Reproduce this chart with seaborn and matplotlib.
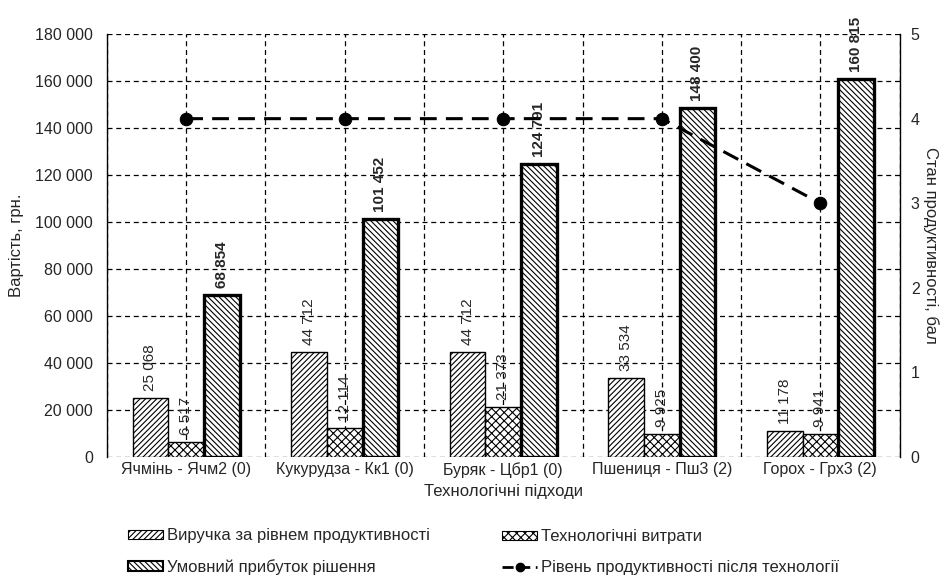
import numpy as np
import pandas as pd
import matplotlib
matplotlib.use("Agg")
import matplotlib.pyplot as plt
from matplotlib.patches import Patch
from matplotlib.lines import Line2D
from matplotlib.ticker import FuncFormatter, MultipleLocator
import seaborn as sns

# ---- data ----
approaches = ["Ячмінь - Ячм2 (0)", "Кукурудза - Кк1 (0)", "Буряк - Цбр1 (0)",
              "Пшениця - Пш3 (2)", "Горох - Грх3 (2)"]
revenue = [25068, 44712, 44712, 33534, 11178]
costs = [6517, 12114, 21373, 9925, 9941]
profit = [68854, 101452, 124791, 148400, 160815]
level_after = [4, 4, 4, 4, 3]

series_names = ["Виручка за рівнем продуктивності", "Технологічні витрати",
                "Умовний прибуток рішення"]
line_name = "Рівень продуктивності після технології"

sns.set_style("white")
plt.rcParams["font.family"] = ["Liberation Sans", "DejaVu Sans"]
plt.rcParams["hatch.linewidth"] = 0.8

df = pd.DataFrame({
    "approach": approaches * 3,
    "series": np.repeat(series_names, len(approaches)),
    "value": revenue + costs + profit,
})

fig = plt.figure(figsize=(9.46, 5.88), dpi=100)
ax = fig.add_axes([0.113, 0.223, 0.838, 0.719])

sns.barplot(data=df, x="approach", y="value", hue="series", order=approaches,
            hue_order=series_names, palette=["white"] * 3, width=0.675,
            edgecolor="black", linewidth=1, legend=False, ax=ax, zorder=3)

hatches = ["//////", "xxxx", "\\\\\\\\\\\\"]
edge_w = [1.0, 1.0, 2.4]
for cont, h, lw, in zip(ax.containers, hatches, edge_w):
    for bar in cont:
        bar.set_hatch(h)
        bar.set_linewidth(lw)
        bar.set_edgecolor("black")

fmt = lambda v: f"{v:,.0f}".replace(",", " ")
for i, cont in enumerate(ax.containers):
    ax.bar_label(cont, labels=[fmt(b.get_height()) for b in cont], rotation=90,
                 padding=5, fontsize=11,
                 fontweight="bold" if i == 2 else "normal", zorder=5)

ax.set_ylim(0, 180000)
ax.set_xlim(-0.5, len(approaches) - 0.5)
ax.yaxis.set_major_locator(MultipleLocator(20000))
ax.yaxis.set_major_formatter(FuncFormatter(lambda v, p: fmt(v)))
ax.set_ylabel("Вартість, грн.", fontsize=12, labelpad=8)
ax.set_xlabel("Технологічні підходи", fontsize=12, labelpad=4)
ax.tick_params(axis="y", labelsize=11.5, length=0, pad=10)
ax.tick_params(axis="x", labelsize=11.5, length=0, pad=4)

# dashed grid at category centres and boundaries
ax.xaxis.set_minor_locator(MultipleLocator(1, offset=0.5))
ax.grid(axis="y", which="major", linestyle=(0, (4, 3)), color="black", linewidth=0.9, zorder=0)
ax.grid(axis="x", which="both", linestyle=(0, (4, 3)), color="black", linewidth=0.9, zorder=0)
ax.set_axisbelow(True)
for s in ax.spines.values():
    s.set_visible(False)
ax.spines["left"].set_visible(True)
ax.spines["left"].set_color("black")
ax.spines["left"].set_linewidth(1)

# secondary axis: productivity level
ax2 = ax.twinx()
line_df = pd.DataFrame({"pos": np.arange(len(approaches)), "level": level_after})
sns.lineplot(data=line_df, x="pos", y="level", ax=ax2, color="black", linewidth=2.2,
             marker="o", markersize=9, markeredgecolor="black", zorder=6)
ax2.lines[0].set_dashes([5.5, 3])
ax2.set_ylim(0, 5)
ax2.set_xlim(-0.5, len(approaches) - 0.5)
ax2.yaxis.set_major_locator(MultipleLocator(1))
ax2.set_ylabel("Стан продуктивності, бал", fontsize=12, rotation=270, labelpad=14)
ax2.set_xlabel("")
ax2.tick_params(axis="y", labelsize=11.5, length=0, pad=8)
for s in ax2.spines.values():
    s.set_visible(False)
ax2.spines["right"].set_visible(True)
ax2.spines["right"].set_color("black")
ax2.spines["right"].set_linewidth(1)

bar_handles = [
    Patch(facecolor="white", edgecolor="black", hatch=hatches[0], linewidth=0.8),
    Patch(facecolor="white", edgecolor="black", hatch=hatches[1], linewidth=0.8),
    Patch(facecolor="white", edgecolor="black", hatch=hatches[2], linewidth=1.5),
]
line_handle = Line2D([], [], color="black", linewidth=2, dashes=[4, 2], marker="o", markersize=6)

common = dict(frameon=False, fontsize=12, handlelength=2.1, handleheight=0.5,
              handletextpad=0.25, labelspacing=0.95, borderaxespad=0, borderpad=0)
leg_left = fig.legend([bar_handles[0], bar_handles[2]], [series_names[0], series_names[2]],
                      loc="lower left", bbox_to_anchor=(0.135, 0.022), **common)
leg_right = fig.legend([bar_handles[1], line_handle], [series_names[1], line_name],
                       loc="lower left", bbox_to_anchor=(0.531, 0.022), **common)

fig.savefig("out.png", dpi=100)
